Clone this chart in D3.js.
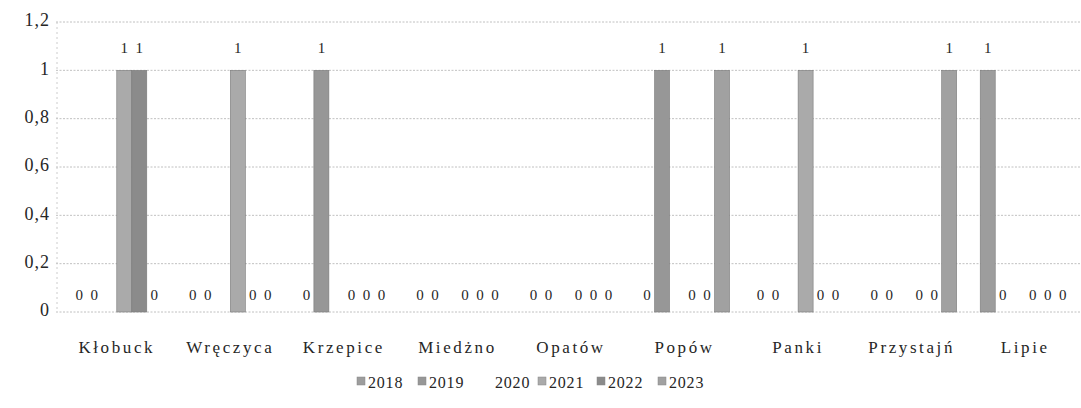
<!DOCTYPE html>
<html>
<head>
<meta charset="utf-8">
<script src="https://cdn.jsdelivr.net/npm/d3@7"></script>
<style>
  body { margin: 0; background: #fff; }
  svg text { font-family: "Liberation Serif", "DejaVu Serif", serif; fill: #262626; }
</style>
</head>
<body>
<div id="chart"></div>
<script>
// categories and series
const towns = ["Kłobuck", "Wręczyca", "Krzepice", "Miedżno", "Opatów", "Popów", "Panki", "Przystajń", "Lipie"];
const years = ["2018", "2019", "2020", "2021", "2022", "2023"];
const v2018 = [0, 0, 0, 0, 0, 0, 0, 0, 1];
const v2019 = [0, 0, 1, 0, 0, 1, 0, 0, 0];
const v2020 = [0, 0, 0, 0, 0, 0, 0, 0, 0];
const v2021 = [1, 1, 0, 0, 0, 0, 1, 0, 0];
const v2022 = [1, 0, 0, 0, 0, 0, 0, 0, 0];
const v2023 = [0, 0, 0, 0, 0, 1, 0, 1, 0];
const yTicks = [0, 0.2, 0.4, 0.6, 0.8, 1, 1.2];

const series = [v2018, v2019, v2020, v2021, v2022, v2023];
const colors = ["#9d9d9d", "#979797", "#ffffff", "#aaaaaa", "#8b8b8b", "#a1a1a1"];
const showLabel = [true, true, false, true, true, true];

const W = 1081, H = 408;
let margin = {top: 22, right: 0, bottom: 96, left: 60};
let width = W - margin.left - margin.right,
    height = H - margin.top - margin.bottom;

let svg = d3.select("#chart")
  .append("svg")
    .attr("width", W)
    .attr("height", H);

let g = svg.append("g")
    .attr("transform", "translate(" + margin.left + "," + margin.top + ")");

// scales
let x0 = d3.scaleBand()
  .domain(towns)
  .range([0, width + 1])
  .padding(0);
let bw = x0.bandwidth();
let groupW = 90;
let x1 = d3.scaleBand()
  .domain(years)
  .range([(bw - groupW) / 2, (bw + groupW) / 2]);
let y = d3.scaleLinear()
  .domain([0, 1.2])
  .range([height, 0]);

// gridlines
g.selectAll(".grid")
  .data(yTicks)
  .enter()
  .append("line")
    .attr("x1", -4)
    .attr("x2", width)
    .attr("y1", d => y(d))
    .attr("y2", d => y(d))
    .attr("stroke", "#b0b0b0")
    .attr("stroke-width", 0.8)
    .attr("stroke-dasharray", "2,1.5");

// y axis line
g.append("line")
  .attr("x1", -3).attr("x2", -3)
  .attr("y1", 0).attr("y2", height)
  .attr("stroke", "#cccccc")
  .attr("stroke-dasharray", "2,3");

// y axis labels
let yAxis = d3.axisLeft(y)
  .tickValues(yTicks)
  .tickSize(0)
  .tickPadding(0)
  .tickFormat(d => d3.format(".1~f")(d).replace(".", ","));
let ya = g.append("g")
  .attr("transform", "translate(-10,-2)")
  .call(yAxis);
ya.select(".domain").remove();
ya.attr("font-family", null);
ya.selectAll("text")
  .style("font-size", "18px")
  .style("letter-spacing", "1px")
  .attr("fill", null);

// x axis labels
let xa = g.append("g")
  .attr("transform", "translate(0," + height + ")")
  .call(d3.axisBottom(x0).tickSize(0).tickPadding(29));
xa.select(".domain").remove();
xa.attr("font-family", null);
xa.selectAll("text")
  .style("font-size", "17px")
  .style("letter-spacing", "2.6px")
  .attr("fill", null);

// bars
let rows = towns.map((t, i) => ({
  town: t,
  vals: years.map((yr, k) => ({year: yr, k: k, value: series[k][i]}))
}));

let grp = g.selectAll(".grp")
  .data(rows)
  .enter()
  .append("g")
    .attr("transform", d => "translate(" + x0(d.town) + ",0)");

grp.selectAll("rect")
  .data(d => d.vals.filter(v => v.value > 0))
  .enter()
  .append("rect")
    .attr("x", d => x1(d.year))
    .attr("y", d => y(d.value))
    .attr("width", x1.bandwidth())
    .attr("height", d => height - y(d.value))
    .attr("fill", d => colors[d.k])
    .attr("stroke", "#7a7a7a")
    .attr("stroke-width", 0.6);

// value labels
grp.selectAll("text.val")
  .data(d => d.vals.filter(v => showLabel[v.k]))
  .enter()
  .append("text")
    .attr("class", "val")
    .attr("x", d => x1(d.year) + x1.bandwidth() / 2)
    .attr("y", d => y(d.value) - (d.value > 0 ? 17 : 12))
    .attr("text-anchor", "middle")
    .style("font-size", "15px")
    .text(d => d.value);

// legend
let legX = [357, 418, 484, 538, 597, 658];
let leg = svg.append("g");
years.forEach((yr, k) => {
  if (k !== 2) {
    leg.append("rect")
      .attr("x", legX[k])
      .attr("y", 377)
      .attr("width", 8)
      .attr("height", 8)
      .attr("fill", colors[k])
      .attr("stroke", "#888")
      .attr("stroke-width", 0.5);
  }
  leg.append("text")
    .attr("x", legX[k] + 11)
    .attr("y", 388)
    .style("font-size", "16px")
    .style("letter-spacing", "0.8px")
    .text(yr);
});
</script>
</body>
</html>
